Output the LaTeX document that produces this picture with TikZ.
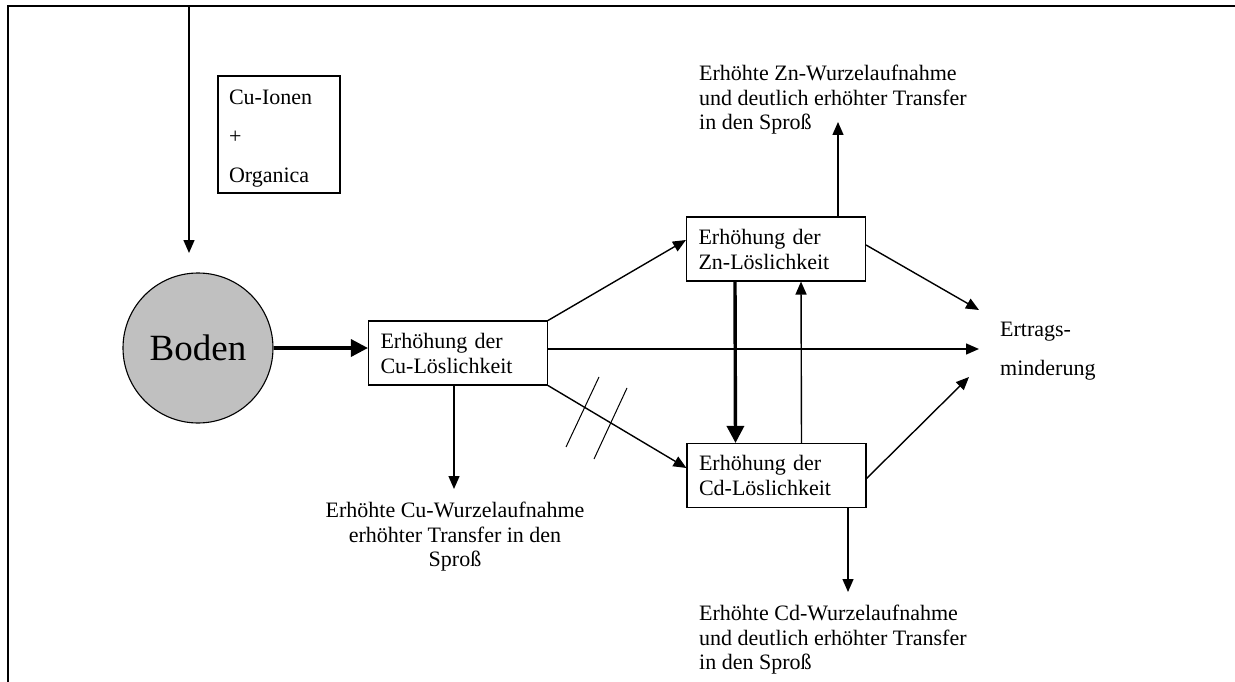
\documentclass[tikz,border=0pt]{standalone}
\usepackage{fontspec}
\setmainfont{Liberation Serif}
\usetikzlibrary{arrows.meta}
\definecolor{bodengray}{RGB}{192,192,192}
\tikzset{
  lbl/.style={inner sep=0pt, font=\fontsize{22}{24.5}\selectfont},
  stepbox/.style={draw, line width=1.1pt, minimum height=64pt, inner xsep=12pt,
    text width=155pt, align=left, font=\fontsize{22}{25}\selectfont},
  conn/.style={line width=1.4pt, -{Triangle[length=13pt,width=11pt]}},
  thickconn/.style={line width=3.4pt, -{Triangle[length=17pt,width=17pt]}},
  plain/.style={line width=1.4pt}
}
\begin{document}
\begin{tikzpicture}[x=1pt,y=-1pt]
\useasboundingbox (0,0) rectangle (1235,682);
% frame
\draw[line width=2pt] (8,682) -- (8,6.5) -- (1235,6.5);

% input arrow
\coordinate (in0) at (189,7);
\coordinate (in1) at (189,253);
\draw[conn] (in0) -- (in1);

% Cu-Ionen box
\node[draw, line width=1.1pt, minimum width=122pt, minimum height=117pt, inner sep=0pt] (ionbox) at (279,134.5) {};
\node[inner xsep=11pt, inner ysep=0pt, text width=100pt, align=left,
  font=\fontsize{22}{39}\selectfont] (ion) at (279,138.5)
  {Cu-Ionen\\+\\Organica};

% Boden
\node[circle, draw, line width=1.1pt, fill=bodengray, minimum size=150pt, inner sep=0pt,
  font=\fontsize{37}{40}\selectfont] (boden) at (198,348) {Boden};

% boxes
\node[stepbox] (cu) at (458,353) {Erhöhung der\\Cu-Löslichkeit};
\node[stepbox] (zn) at (776,249) {Erhöhung der\\Zn-Löslichkeit};
\node[stepbox] (cd) at (776.5,475.5) {Erhöhung der\\Cd-Löslichkeit};

% texts
\node[lbl, anchor=west, align=left] (zntxt) at (699,100)
  {Erhöhte Zn-Wurzelaufnahme\\und deutlich erhöhter Transfer\\in den Sproß};
\node[lbl, anchor=west, align=left] (cdtxt) at (699,640)
  {Erhöhte Cd-Wurzelaufnahme\\und deutlich erhöhter Transfer\\in den Sproß};
\node[lbl, align=center] (cutxt) at (455,537)
  {Erhöhte Cu-Wurzelaufnahme\\erhöhter Transfer in den\\Sproß};
\node[inner sep=0pt, anchor=west, align=left, font=\fontsize{22}{39}\selectfont] (ert) at (1000,351)
  {Ertrags-\\minderung};

% arrow end points
\coordinate (e1) at (979,310);
\coordinate (e2) at (979,349);
\coordinate (e3) at (969,377);
\coordinate (znup) at (838,122);
\coordinate (cddn) at (848,592);
\coordinate (cudn) at (454,489);

% connectors
\draw[thickconn] (boden.east) -- (boden.east -| cu.west);
\draw[conn] (cu.north east) -- ([yshift=9pt]zn.west);
\draw[conn] ([yshift=4pt]cu.east) -- (e2);
\draw[conn] (cu.south east) -- ([yshift=7.5pt]cd.west);
\draw[conn] (cudn |- cu.south) -- (cudn);
\draw[thickconn] ([xshift=-41pt]zn.south) -- ([xshift=-41pt]cd.north);
\draw[conn] ([xshift=25pt]cd.north) -- ([xshift=25pt]zn.south);
\draw[conn] (znup |- zn.north) -- (znup);
\draw[conn] ([yshift=4pt]zn.east) -- (e1);
\draw[conn] ([yshift=-3pt]cd.east) -- (e3);
\draw[conn] (cddn |- cd.south) -- (cddn);

% break marks
\draw[line width=1pt] (566,447) -- (599,377);
\draw[line width=1pt] (594,459) -- (627,388);
\end{tikzpicture}
\end{document}
